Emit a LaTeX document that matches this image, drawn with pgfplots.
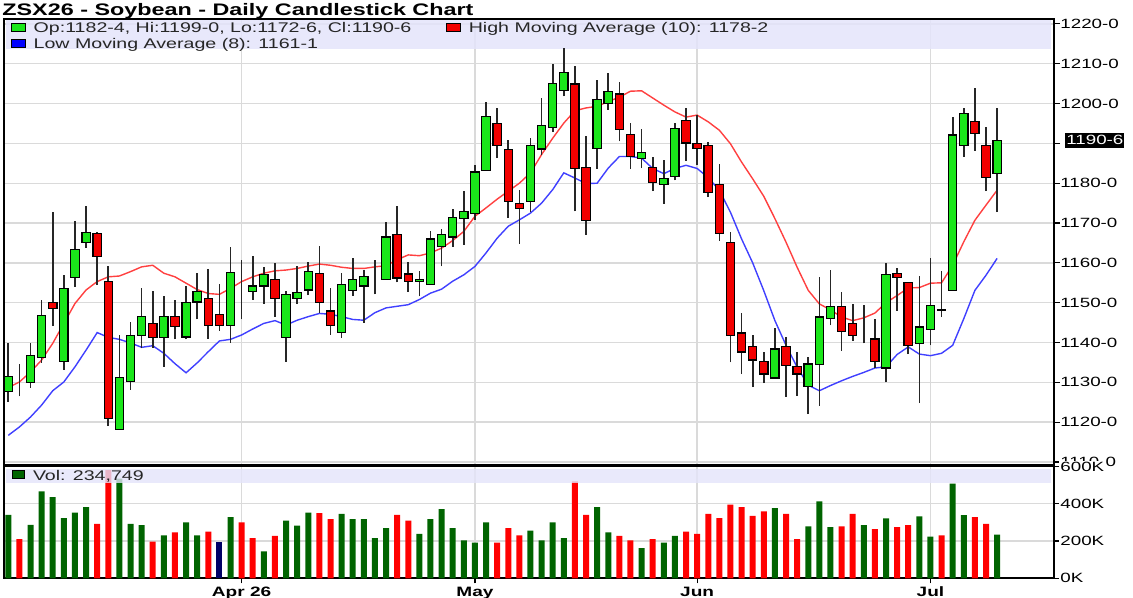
\documentclass[border=0pt]{standalone}
\usepackage{fontspec}
\setmainfont{Liberation Sans}[FakeStretch=1.4]
\usepackage{pgfplots}
\pgfplotsset{compat=1.18}
\usepackage{pgfplotstable}
\definecolor{candgreen}{HTML}{1AE61A}
\definecolor{candred}{HTML}{F20000}
\definecolor{volgreen}{HTML}{006400}
\definecolor{volred}{HTML}{FF0000}
\definecolor{volnavy}{HTML}{000066}
\definecolor{mared}{HTML}{FF4040}
\definecolor{mablue}{HTML}{4040FF}
\definecolor{bandc}{HTML}{E4E4FA}
\definecolor{gridgray}{HTML}{DADADA}
\newcommand\tickfont{\fontsize{6.7}{8}\selectfont}
\newcommand\legfont{\fontsize{7}{8.4}\selectfont}

\pgfplotstableread{
x O H L C
1 1127.8 1139.8 1125.1 1131.5
2 1131.0 1134.7 1126.5 1131.0
3 1130.0 1139.8 1128.7 1136.7
4 1136.2 1150.8 1134.9 1146.8
5 1150.1 1172.7 1144.2 1148.6
6 1135.2 1157.0 1133.2 1153.6
7 1156.4 1170.4 1154.0 1163.4
8 1165.1 1174.4 1163.8 1167.7
9 1167.3 1167.8 1154.4 1161.7
10 1155.3 1159.2 1119.0 1120.9
11 1118.1 1142.0 1118.1 1131.2
12 1130.2 1145.2 1128.2 1141.7
13 1141.8 1153.8 1138.7 1146.5
14 1144.8 1153.0 1138.7 1141.3
15 1141.3 1151.7 1133.9 1146.5
16 1146.5 1150.8 1140.8 1144.0
17 1141.4 1154.2 1140.8 1150.1
18 1150.2 1157.5 1145.8 1152.9
19 1151.1 1158.4 1141.0 1144.2
20 1147.1 1154.7 1142.9 1144.2
21 1144.2 1163.9 1140.0 1157.5
22 1155.7 1160.7 1145.8 1155.7
23 1152.9 1161.7 1150.7 1154.2
24 1154.2 1158.9 1149.8 1157.1
25 1155.9 1159.9 1146.5 1151.1
26 1141.3 1152.9 1135.2 1152.1
27 1151.1 1159.2 1149.8 1152.6
28 1153.2 1160.3 1151.9 1157.8
29 1157.4 1164.2 1147.5 1150.0
30 1147.9 1153.6 1141.9 1144.2
31 1142.5 1157.4 1141.2 1154.6
32 1153.0 1161.1 1151.8 1155.9
33 1154.2 1158.2 1145.0 1156.5
34 1158.0 1160.7 1152.1 1158.0
35 1155.8 1170.2 1155.8 1166.5
36 1167.1 1174.2 1155.1 1156.2
37 1157.2 1160.1 1152.7 1155.4
38 1155.4 1157.9 1151.6 1155.9
39 1154.5 1167.9 1154.5 1166.0
40 1164.1 1168.5 1159.1 1167.1
41 1166.5 1173.6 1164.0 1171.3
42 1171.1 1178.1 1164.6 1172.9
43 1172.3 1184.6 1170.8 1182.8
44 1183.1 1200.5 1183.1 1196.8
45 1194.9 1198.9 1186.3 1189.5
46 1188.4 1190.8 1171.3 1175.4
47 1174.9 1178.4 1164.8 1173.6
48 1175.4 1191.3 1172.7 1189.5
49 1188.6 1201.4 1187.2 1194.5
50 1194.0 1210.0 1192.8 1205.0
51 1203.3 1213.9 1201.8 1207.7
52 1204.9 1209.5 1172.9 1183.6
53 1184.0 1191.8 1167.1 1170.7
54 1188.7 1205.8 1183.6 1201.0
55 1200.0 1207.7 1198.5 1203.1
56 1202.4 1205.3 1190.5 1193.4
57 1192.3 1195.1 1183.6 1186.7
58 1186.2 1193.6 1183.8 1187.7
59 1184.0 1186.6 1178.0 1180.2
60 1179.6 1185.8 1174.9 1181.1
61 1181.6 1195.0 1180.7 1193.7
62 1195.8 1199.0 1185.6 1190.1
63 1189.9 1197.1 1184.5 1188.7
64 1189.5 1190.4 1176.5 1177.6
65 1179.7 1184.7 1165.5 1167.3
66 1165.2 1167.7 1135.0 1141.7
67 1142.4 1147.4 1132.1 1137.6
68 1139.0 1141.9 1128.8 1135.6
69 1135.3 1137.6 1129.8 1132.1
70 1131.1 1143.7 1131.1 1138.4
71 1139.0 1141.3 1126.4 1134.2
72 1133.9 1137.6 1126.7 1132.1
73 1129.0 1136.3 1122.0 1134.6
74 1134.4 1156.4 1124.1 1146.4
75 1146.1 1158.3 1144.3 1149.0
76 1149.0 1152.8 1138.0 1142.8
77 1144.8 1149.7 1140.5 1141.7
78 1141.9 1149.3 1139.8 1141.9
79 1140.9 1145.9 1133.6 1135.3
80 1133.6 1160.0 1130.0 1157.0
81 1157.3 1158.8 1148.0 1156.4
82 1155.0 1155.0 1137.1 1139.2
83 1139.7 1156.6 1124.8 1143.9
84 1143.2 1161.3 1139.3 1149.2
85 1148.2 1158.0 1146.4 1148.0
86 1153.1 1196.7 1153.1 1192.1
87 1189.4 1198.8 1186.7 1197.6
88 1195.5 1203.9 1188.2 1192.4
89 1189.4 1194.2 1178.0 1181.5
90 1182.5 1199.0 1172.75 1190.75
}\candles

\pgfplotstableread{
x R B
1 1128.7 1116.7
2 1130.1 1118.8
3 1132.6 1121.3
4 1135.6 1124.3
5 1139.8 1127.9
6 1144.8 1130.1
7 1149.8 1133.9
8 1153.2 1138.1
9 1155.3 1142.5
10 1156.5 1141.3
11 1156.7 1140.8
12 1157.8 1139.9
13 1159.0 1138.8
14 1159.4 1139.2
15 1157.4 1137.3
16 1156.5 1134.7
17 1154.9 1132.4
18 1153.3 1134.9
19 1152.3 1137.7
20 1152.1 1140.4
21 1153.6 1140.8
22 1155.3 1141.9
23 1156.5 1143.4
24 1157.4 1144.8
25 1158.0 1145.5
26 1158.2 1144.4
27 1158.6 1145.6
28 1159.2 1146.5
29 1159.7 1147.3
30 1159.4 1147.1
31 1158.9 1146.5
32 1158.6 1145.8
33 1158.6 1145.6
34 1159.0 1147.5
35 1159.3 1148.7
36 1160.8 1149.1
37 1162.0 1149.5
38 1161.8 1150.8
39 1162.5 1152.4
40 1163.7 1153.4
41 1165.6 1155.4
42 1167.9 1157.0
43 1171.7 1159.1
44 1173.8 1162.5
45 1176.0 1166.2
46 1178.0 1169.2
47 1180.0 1170.8
48 1182.6 1172.5
49 1187.2 1175.0
50 1191.3 1178.4
51 1195.1 1182.6
52 1198.2 1181.3
53 1198.9 1179.9
54 1199.3 1180.0
55 1200.5 1183.8
56 1201.6 1186.7
57 1203.1 1186.7
58 1203.2 1186.3
59 1201.4 1183.7
60 1199.6 1182.4
61 1197.9 1183.7
62 1196.6 1184.5
63 1197.1 1183.7
64 1195.4 1181.4
65 1193.3 1178.2
66 1189.9 1172.7
67 1185.3 1166.0
68 1181.1 1160.0
69 1176.7 1153.0
70 1171.1 1145.5
71 1165.2 1139.3
72 1158.9 1133.8
73 1153.1 1129.3
74 1149.7 1127.9
75 1148.2 1129.2
76 1146.4 1130.4
77 1145.5 1131.5
78 1146.2 1132.5
79 1147.4 1133.6
80 1150.0 1133.9
81 1151.8 1137.0
82 1153.7 1138.9
83 1153.8 1137.1
84 1154.9 1136.7
85 1155.0 1137.3
86 1159.4 1139.3
87 1165.3 1146.0
88 1170.7 1153.1
89 1174.5 1156.9
90 1178.25 1161.125
}\mas

\pgfplotsset{common/.style={scale only axis, anchor=south west, width=525pt, xmin=0.613, xmax=95.12}}

\begin{document}
\begin{tikzpicture}
\useasboundingbox (0,0) rectangle (566.5pt,299pt);
% ---------- price panel: grid, band, averages, wicks
\begin{axis}[common, at={(2pt,66.25pt)}, height=223.25pt,
  ymin=1109.13, ymax=1221.23,
  axis line style={black, line width=1pt},
  xtick={22,43,63,84}, xticklabels={}, xtick style={draw=none},
  ytick={1110,1120,...,1220},
  yticklabels={1110-0,1120-0,1130-0,1140-0,1150-0,1160-0,1170-0,1180-0,{},1200-0,1210-0,1220-0},
  ytick pos=right, yticklabel pos=right, tick align=outside, major tick length=3pt,
  ytick style={black, line width=0.6pt},
  yticklabel style={font=\tickfont, anchor=west, inner sep=0pt, xshift=0pt},
  xmajorgrids, ymajorgrids, grid style={gridgray, line width=0.7pt},
]
\fill[bandc, fill opacity=0.85] (rel axis cs:0.002,0.932) rectangle (rel axis cs:0.997,0.998);
\addplot[mared, line width=0.7pt, forget plot] table[x=x, y=R] {\mas};
\addplot[mablue, line width=0.7pt, forget plot] table[x=x, y=B] {\mas};
\addplot[draw=none, mark=none, forget plot,
  error bars/.cd, y dir=plus, y explicit, error mark=none,
  error bar style={draw=black!85, line width=0.85pt}]
  table[x=x, y=L, y error expr={\thisrow{H}-\thisrow{L}}] {\candles};
\coordinate (lastp) at (axis cs:95.12,1190.75);
\end{axis}
% ---------- price panel: candle bodies
\begin{axis}[common, at={(2pt,66.25pt)}, height=223.25pt,
  ymin=1109.13, ymax=1221.23, hide axis, ybar stacked, bar width=0.75]
\addplot[draw=none, fill=none] table[x=x, y expr={min(\thisrow{O},\thisrow{C})}] {\candles};
\addplot[draw=black, line width=0.6pt, fill=candgreen] table[x=x, y expr={max(\thisrow{C}-\thisrow{O},0)}] {\candles};
\addplot[draw=black, line width=0.6pt, fill=candred] table[x=x, y expr={max(\thisrow{O}-\thisrow{C},0)}] {\candles};
\end{axis}
% ---------- volume panel
\begin{axis}[common, at={(2pt,9.85pt)}, height=55.9pt,
  ymin=0, ymax=600,
  axis line style={black, line width=1pt},
  ybar, bar width=0.54, bar shift=0pt,
  xtick={22,43,63,84}, xticklabels={Apr 26,May,Jun,Jul},
  xtick pos=bottom, xticklabel style={font=\bfseries\fontsize{6.8}{8}\selectfont, anchor=base, yshift=-6.6pt},
  ytick={0,200,400,600}, yticklabels={0K,200K,400K,600K},
  ytick pos=right, yticklabel pos=right, tick align=outside, major tick length=2.5pt,
  tick style={black, line width=0.6pt},
  yticklabel style={font=\tickfont, anchor=west, fill=white, inner sep=0.5pt, xshift=0pt},
  xmajorgrids, ymajorgrids, grid style={gridgray, line width=0.7pt},
]
\addplot[fill=volgreen, draw=none] coordinates {(1,341) (3,287) (4,466) (5,436) (6,323) (7,353) (8,382) (11,535) (12,292) (13,285) (15,231) (17,300) (18,231) (21,328) (24,144) (26,310) (27,282) (28,353) (31,346) (32,318) (33,318) (34,215) (35,269) (38,239) (39,318) (40,371) (41,269) (42,203) (43,192) (44,300) (48,256) (49,203) (50,300) (51,215) (54,382) (55,246) (58,162) (60,192) (61,228) (70,377) (73,278) (74,413) (75,274) (78,285) (80,321) (83,332) (84,224) (86,508) (87,339) (90,234.749)};
\addplot[fill=volred, draw=none] coordinates {(2,210) (9,292) (10,580) (14,197) (16,246) (19,251) (22,300) (23,215) (25,228) (29,350) (30,318) (36,341) (37,310) (45,192) (46,269) (47,231) (52,520) (53,341) (56,228) (57,203) (59,210) (62,251) (63,239) (64,346) (65,323) (66,395) (67,382) (68,335) (69,359) (71,346) (72,210) (76,278) (77,346) (79,264) (81,274) (82,285) (85,231) (88,328) (89,292)};
\addplot[fill=volnavy, draw=none] coordinates {(20,197)};
\fill[bandc, fill opacity=0.8] (rel axis cs:0.002,0.855) rectangle (rel axis cs:0.9975,0.975);
\end{axis}
% ---------- last price marker
\node[fill=black, text=white, font=\tickfont, anchor=west, inner xsep=0.5pt, inner ysep=1pt, text height=4.9pt, text depth=0.4pt, xshift=5.5pt] at (lastp) {1190-6};
% ---------- title and legends
\node[anchor=base west, inner sep=0pt, font=\bfseries\fontsize{8.34}{10}\selectfont] at (1pt,291pt) {ZSX26 - Soybean - Daily Candlestick Chart};
\filldraw[fill=candgreen, draw=black, line width=0.5pt] (5.85pt,283.15pt) rectangle (12.5pt,287pt);
\node[anchor=base west, inner sep=0pt, font=\legfont, text=black!85] at (16.65pt,282.65pt) {Op:1182-4, Hi:1199-0, Lo:1172-6, Cl:1190-6};
\filldraw[fill=candred, draw=black, line width=0.5pt] (223.35pt,283.15pt) rectangle (230pt,287pt);
\node[anchor=base west, inner sep=0pt, font=\legfont, text=black!85] at (234.2pt,282.65pt) {High Moving Average (10): 1178-2};
\filldraw[fill=blue, draw=black, line width=0.5pt] (5.85pt,275.15pt) rectangle (12.5pt,279pt);
\node[anchor=base west, inner sep=0pt, font=\legfont, text=black!85] at (16.65pt,274.85pt) {Low Moving Average (8): 1161-1};
\filldraw[fill=volgreen, draw=black, line width=0.5pt] (6pt,59.9pt) rectangle (12.4pt,63.5pt);
\node[anchor=base west, inner sep=0pt, font=\legfont, text=black!85] at (16.3pt,58.65pt) {Vol: 234,749};
\end{tikzpicture}
\end{document}
